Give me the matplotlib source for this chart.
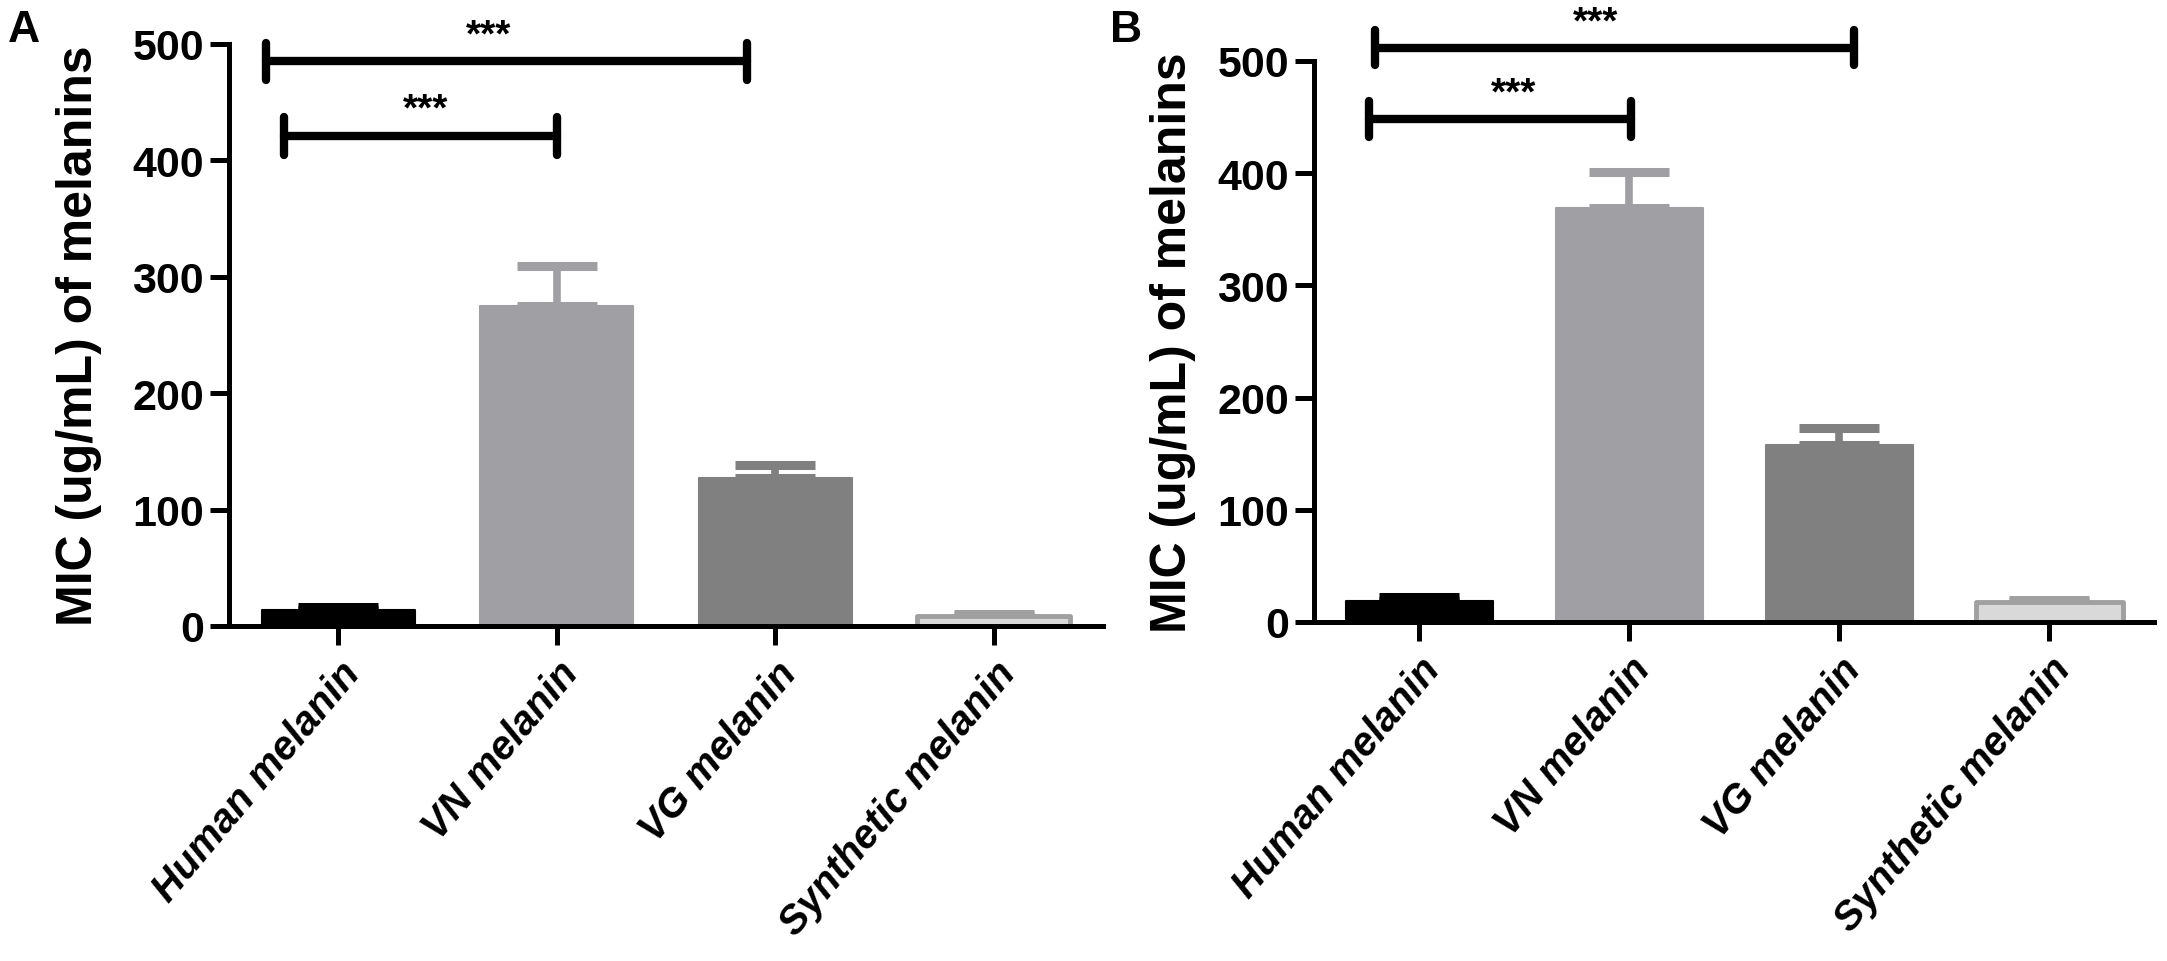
import numpy as np
import matplotlib
matplotlib.use("Agg")
import matplotlib.pyplot as plt

plt.rcParams['font.family'] = ['Liberation Sans', 'DejaVu Sans']

categories = ['Human melanin', 'VN melanin', 'VG melanin', 'Synthetic melanin']

# panel A
mic_a = [14, 275, 127, 9]
err_a = [2, 34, 11, 1]
# panel B
mic_b = [19, 369, 158, 18]
err_b = [3, 32, 15, 2]

bar_colors = ['#000000', '#a0a0a4', '#808080', '#d9d9d9']
edge_colors = ['#000000', '#a0a0a4', '#808080', '#a0a0a0']

# significance brackets: (x start, x end, height, star x, star y)
brackets_a = [(-0.33, 1.87, 485, 0.69, 492), (-0.25, 1.0, 421, 0.40, 428)]
brackets_b = [(-0.21, 2.07, 512, 0.84, 518), (-0.24, 1.01, 448, 0.45, 455)]

W, H = 2167, 962
fig = plt.figure(figsize=(W / 100, H / 100), dpi=100)

def panel(rect, vals, errs, brackets, letter, letter_x, label_x):
	ax = fig.add_axes(rect)
	x = np.arange(len(categories))
	for i in range(len(categories)):
		ax.errorbar(x[i], vals[i], yerr=[[0], [errs[i]]], fmt='none',
			ecolor=edge_colors[i], elinewidth=5.5, capsize=29, capthick=6.5, zorder=1)
	lw = [1.5, 1.5, 1.5, 3.5]
	ax.bar(x, vals, width=0.7, color=bar_colors, edgecolor=edge_colors,
		linewidth=lw, joinstyle='round', zorder=2)

	for x0, x1, y, sx, sy in brackets:
		kw = dict(color='black', lw=6, solid_capstyle='round', clip_on=False, zorder=3)
		ax.plot([x0, x1], [y, y], **kw)
		ax.plot([x0, x0], [y - 16, y + 16], **kw)
		ax.plot([x1, x1], [y - 16, y + 16], **kw)
		ax.text(sx, sy, '***', ha='center', va='bottom', fontsize=28,
			fontweight='bold', clip_on=False)

	ax.set_xlim(-0.5, 3.5)
	ax.set_ylim(0, 500)
	ax.set_yticks([0, 100, 200, 300, 400, 500])
	ax.set_xticks(x)
	ax.set_xticklabels(categories, rotation=50, ha='right', rotation_mode='anchor',
		fontsize=29, fontweight='bold', fontstyle='italic')
	for lab in ax.get_yticklabels():
		lab.set_fontsize(31)
		lab.set_fontweight('bold')
	ax.spines['top'].set_visible(False)
	ax.spines['right'].set_visible(False)
	ax.spines['left'].set_linewidth(3.6)
	ax.spines['bottom'].set_linewidth(3.6)
	ax.tick_params(direction='out', length=14, width=3.6, pad=4)
	ax.tick_params(axis='x', pad=6)
	ax.set_ylabel('MIC (ug/mL) of melanins', fontsize=36, fontweight='bold')
	ax.yaxis.set_label_coords(label_x, 0.5)
	fig.text(letter_x, 1 - 31 / H, letter, fontsize=32, fontweight='bold',
		ha='left', va='center')
	return ax

panel([229 / W, 1 - 627 / H, 874 / W, 582 / H], mic_a, err_a, brackets_a, 'A', 8 / W, -0.145)
panel([1314 / W, 1 - 623 / H, 840 / W, 561 / H], mic_b, err_b, brackets_b, 'B', 1110 / W, -0.14)

fig.savefig('out.png', dpi=100)
